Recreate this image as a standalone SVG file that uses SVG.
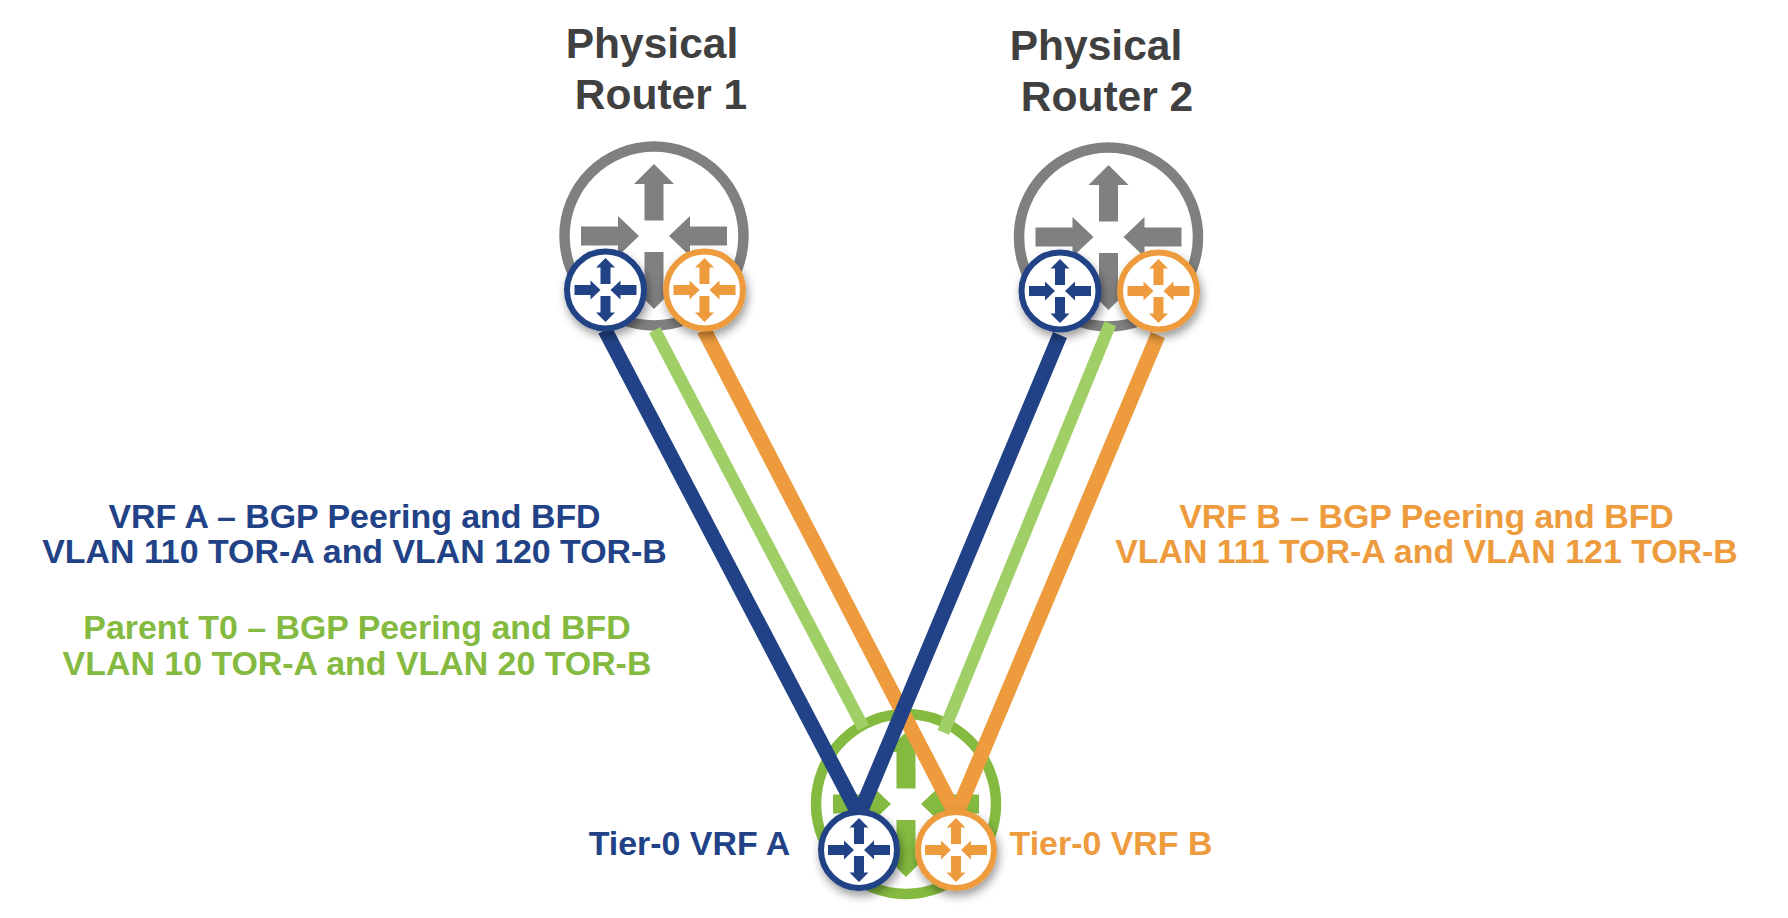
<svg xmlns="http://www.w3.org/2000/svg" width="1788" height="918" viewBox="0 0 1788 918">
<style>
text{font-family:"Liberation Sans",Arial,sans-serif;font-weight:700;text-anchor:middle}
.title{font-size:42.500px;fill:#404040}
.lab{font-size:33.900px}
.blue{fill:#214286}.orange{fill:#ED9B3D}.green{fill:#84BA3F}.gray{fill:#808080}
.ring{fill:#fff;stroke-width:10.500}
.ringS{fill:#fff;stroke-width:6}
.conn{fill:none;stroke-width:15}
</style>
<defs>
<path id="arrows" d="M0-72L20-52H9.500V-15.500H-9.500V-52H-20ZM0 73L-20 53H-9.500V16H9.500V53H20ZM-73-9.500H-36V-20L-15 0L-36 20V9.500H-73ZM73-9.500H36V-20L15 0L36 20V9.500H73Z"/>
<path id="arrowsS" d="M0-32L9.500-22.500H5V-6H-5V-22.500H-9.500ZM0 32L-9.500 22.500H-5V6H5V22.500H9.500ZM-31-5H-15V-9.500L-5 0L-15 9.500V5H-31ZM31-5H15V-9.500L5 0L15 9.500V5H31Z"/>
<filter id="sh" x="-30%" y="-30%" width="160%" height="160%"><feDropShadow dx="2" dy="5" stdDeviation="5" flood-color="#000" flood-opacity=".4"/></filter>
</defs>
<rect width="1788" height="918" fill="#fff"/>
<g id="router-1">
<circle class="ring" cx="654" cy="236" r="89.500" stroke="#808080"/>
<use href="#arrows" class="gray" transform="translate(654 236)"/>
</g>
<g id="router-2">
<circle class="ring" cx="1108.500" cy="237" r="89.500" stroke="#808080"/>
<use href="#arrows" class="gray" transform="translate(1108.500 237)"/>
</g>
<g id="parent-t0">
<circle class="ring" cx="906" cy="804" r="90" stroke="#84BA3F"/>
<use href="#arrows" class="green" transform="translate(906 804)"/>
</g>
<g id="connectors">
<path class="conn" stroke="#A0CF67" style="stroke-width:12.500" d="M654.700 330L863.300 727.700"/>
<path class="conn" stroke="#A0CF67" style="stroke-width:12.500" d="M1110.300 323.700L943.300 732.300"/>
<path class="conn" stroke="#ED9B3D" d="M704 330L956 815"/>
<path class="conn" stroke="#ED9B3D" d="M1158 335L956 815"/>
<path class="conn" stroke="#214286" d="M605 330L859 815"/>
<path class="conn" stroke="#214286" d="M1060 335L859 815"/>
</g>
<g id="r1-vrf-a" filter="url(#sh)">
<circle class="ringS" cx="605.500" cy="290" r="38.500" stroke="#214286"/>
<use href="#arrowsS" class="blue" transform="translate(605.500 290)"/>
</g>
<g id="r1-vrf-b" filter="url(#sh)">
<circle class="ringS" cx="704.500" cy="290" r="38.500" stroke="#ED9B3D"/>
<use href="#arrowsS" class="orange" transform="translate(704.500 290)"/>
</g>
<g id="r2-vrf-a" filter="url(#sh)">
<circle class="ringS" cx="1060" cy="291" r="38.500" stroke="#214286"/>
<use href="#arrowsS" class="blue" transform="translate(1060 291)"/>
</g>
<g id="r2-vrf-b" filter="url(#sh)">
<circle class="ringS" cx="1158.500" cy="291" r="38.500" stroke="#ED9B3D"/>
<use href="#arrowsS" class="orange" transform="translate(1158.500 291)"/>
</g>
<g id="t0-vrf-a" filter="url(#sh)">
<circle class="ringS" cx="859" cy="850" r="38" stroke="#214286"/>
<use href="#arrowsS" class="blue" transform="translate(859 850)"/>
</g>
<g id="t0-vrf-b" filter="url(#sh)">
<circle class="ringS" cx="956" cy="850" r="38" stroke="#ED9B3D"/>
<use href="#arrowsS" class="orange" transform="translate(956 850)"/>
</g>
<g id="labels">
<text class="title" x="652" y="58">Physical</text>
<text class="title" x="661" y="109">Router 1</text>
<text class="title" x="1096" y="60">Physical</text>
<text class="title" x="1107" y="111">Router 2</text>
<text class="lab blue" x="354.500" y="528">VRF A – BGP Peering and BFD</text>
<text class="lab blue" x="354.500" y="563">VLAN 110 TOR-A and VLAN 120 TOR-B</text>
<text class="lab green" x="357" y="638.500">Parent T0 – BGP Peering and BFD</text>
<text class="lab green" x="357" y="674.500">VLAN 10 TOR-A and VLAN 20 TOR-B</text>
<text class="lab orange" x="1426.500" y="528">VRF B – BGP Peering and BFD</text>
<text class="lab orange" x="1426.500" y="563">VLAN 111 TOR-A and VLAN 121 TOR-B</text>
<text class="lab blue" x="689.500" y="855">Tier-0 VRF A</text>
<text class="lab orange" x="1111" y="855">Tier-0 VRF B</text>
</g>
</svg>
